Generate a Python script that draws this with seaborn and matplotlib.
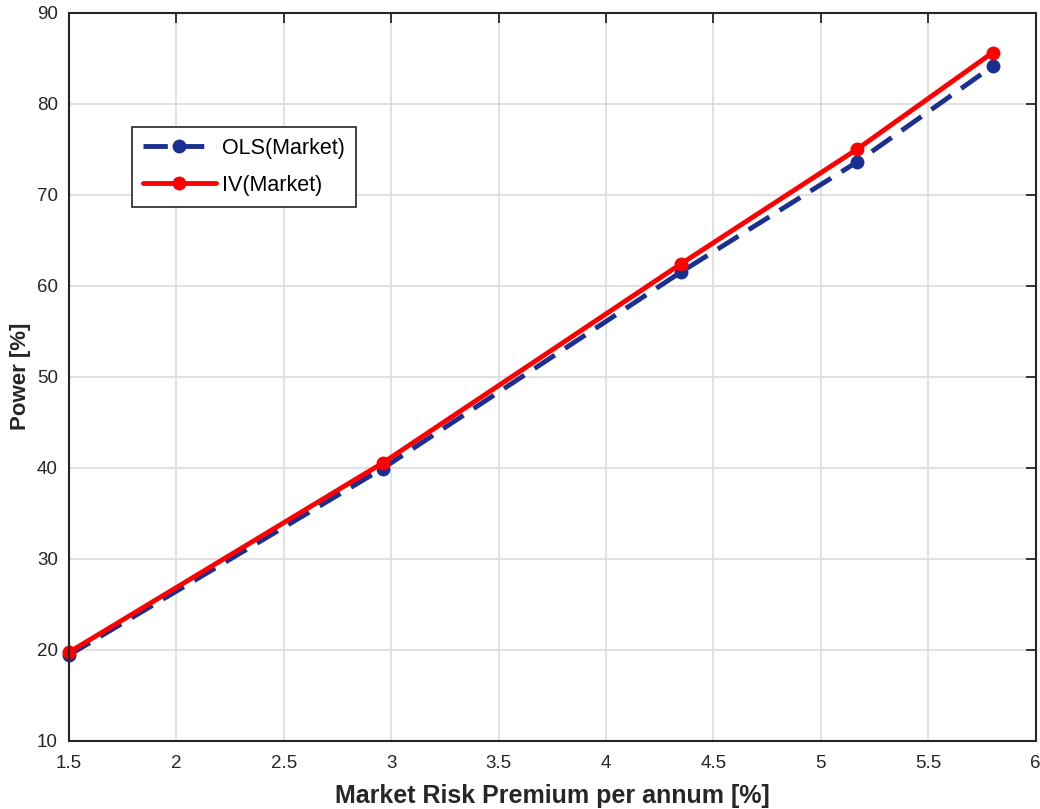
import seaborn as sns
import matplotlib.pyplot as plt
import pandas as pd

# values
premium = [1.5, 2.96, 4.35, 5.17, 5.80]
power_ols = [19.4, 39.9, 61.5, 73.6, 84.1]
power_iv = [19.7, 40.5, 62.4, 75.0, 85.6]
x_ticks = [1.5, 2, 2.5, 3, 3.5, 4, 4.5, 5, 5.5, 6]
x_tick_labels = ["1.5", "2", "2.5", "3", "3.5", "4", "4.5", "5", "5.5", "6"]
y_ticks = [10, 20, 30, 40, 50, 60, 70, 80, 90]

df = pd.DataFrame({"premium": premium, "ols": power_ols, "iv": power_iv})

sns.set_style("white")
plt.rcParams["font.family"] = ["Liberation Sans", "DejaVu Sans"]

fig = plt.figure(figsize=(10.4, 8.09), dpi=100)
ax = fig.add_axes([0.0663, 0.0845, 0.9295, 0.9], zorder=1)

#blue dashed OLS
sns.lineplot(data=df, x="premium", y="ols", ax=ax, color="#1a2f8f", linewidth=3.5,
             marker="o", markersize=10, markeredgewidth=0, label="OLS(Market)")
ax.lines[-1].set_dashes([5, 2.5])
#red solid IV
sns.lineplot(data=df, x="premium", y="iv", ax=ax, color="#ff0000", linewidth=3.5,
             marker="o", markersize=10, markeredgewidth=0, label="IV(Market)")
for ln in ax.lines:
    ln.set_clip_on(False)

ax.set_xlim(1.5, 6)
ax.set_ylim(10, 90)
ax.set_xticks(x_ticks)
ax.set_xticklabels(x_tick_labels)
ax.set_yticks(y_ticks)
ax.grid(True, color="#dcdcdc", linewidth=1.2)
ax.set_axisbelow(True)
ax.tick_params(direction="in", length=7, width=1.3, labelsize=13.5, colors="#262626",
               top=True, right=True, pad=10)
ax.tick_params(axis="y", pad=8)
for s in ax.spines.values():
    s.set_color("#262626")
    s.set_linewidth(1.5)

ax.set_xlabel("Market Risk Premium per annum [%]", fontsize=18, fontweight="bold",
              color="#262626", labelpad=9)
ax.set_ylabel("Power [%]", fontsize=16, fontweight="bold", color="#262626", labelpad=4)

leg = ax.legend(loc="upper left", bbox_to_anchor=(0.065, 0.843), fontsize=15.5,
                fancybox=False, framealpha=1, edgecolor="#262626",
                handlelength=3.4, borderpad=0.5, labelspacing=0.75, handletextpad=0.3,
                borderaxespad=0)
leg.get_frame().set_linewidth(1.2)
for t in leg.get_texts():
    t.set_color("black")

fig.savefig("out.png", dpi=100)
